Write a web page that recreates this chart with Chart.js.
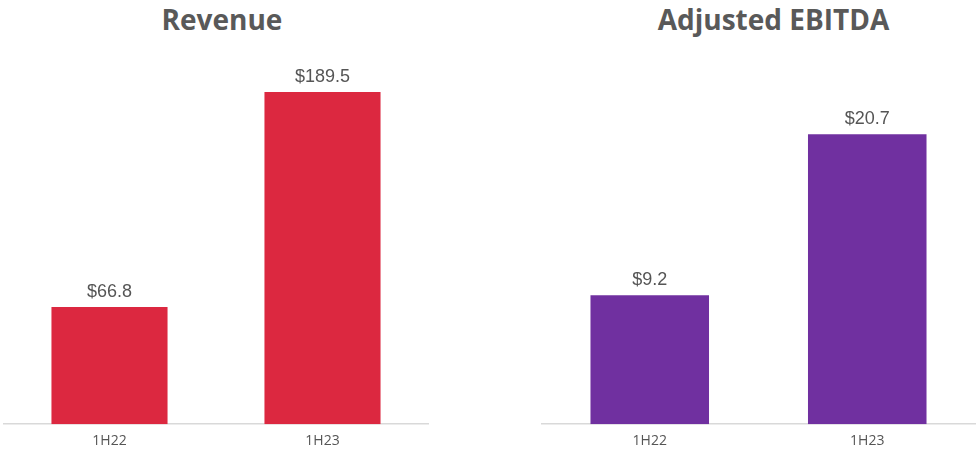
<!DOCTYPE html>
<html>
<head>
<meta charset="utf-8">
<script src="https://cdn.jsdelivr.net/npm/chart.js@4"></script>
<style>
  body { margin: 0; background: #fff; width: 976px; height: 455px; overflow: hidden; position: relative; }
  .title { position: absolute; top: 0; font-family: "Open Sans", sans-serif; font-weight: 700; font-size: 28px; color: #595959; text-align: center; }
  .box { position: absolute; top: 0; height: 455px; }
</style>
</head>
<body>
<div class="title" style="left:3px;width:438px;">Revenue</div>
<div class="title" style="left:541px;width:465px;">Adjusted EBITDA</div>
<div class="box" style="left:3px;width:426px;"><canvas id="revenueChart"></canvas></div>
<div class="box" style="left:541px;width:435px;"><canvas id="ebitdaChart"></canvas></div>
<script>
// periods on the x axis
const periods = ['1H22', '1H23'];
// $ millions
const revenue_values = [66.8, 189.5];
const ebitda_values = [9.2, 20.7];

// draws the "$xx.x" above each bar
const valueLabels = {
  id: 'valueLabels',
  afterDatasetsDraw(chart) {
    const ctx = chart.ctx;
    ctx.save();
    ctx.font = '18px "Liberation Sans", Arial, sans-serif';
    ctx.fillStyle = '#555';
    ctx.textAlign = 'center';
    ctx.textBaseline = 'bottom';
    chart.getDatasetMeta(0).data.forEach((bar, i) => {
      const v = chart.data.datasets[0].data[i];
      ctx.fillText('$' + v.toFixed(1), bar.x, bar.y - 6);
    });
    ctx.restore();
  }
};

function make_chart(id, values, color, yMax){
  const ctx = document.getElementById(id).getContext('2d');
  return new Chart(ctx, {
    type: 'bar',
    data: {
      labels: periods,
      datasets: [{
        data: values,
        backgroundColor: color,
        barPercentage: 1,
        categoryPercentage: 0.545
      }]
    },
    options: {
      responsive: true,
      maintainAspectRatio: false,
      animation: false,
      layout: { padding: { top: 60, bottom: 6, left: 0, right: 0 } },
      plugins: {
        legend: { display: false },
        tooltip: { enabled: false }
      },
      scales: {
        x: {
          grid: { display: false },
          border: { display: true, color: '#d9d9d9', width: 1.5 },
          ticks: {
            color: '#555',
            padding: 0,
            font: { family: '"Open Sans", sans-serif', size: 14 }
          }
        },
        y: {
          display: false,
          beginAtZero: true,
          max: yMax
        }
      }
    },
    plugins: [valueLabels]
  });
}

make_chart('revenueChart', revenue_values, '#dc2840', 207.8);
make_chart('ebitdaChart', ebitda_values, '#7030a0', 26.0);
</script>
</body>
</html>
